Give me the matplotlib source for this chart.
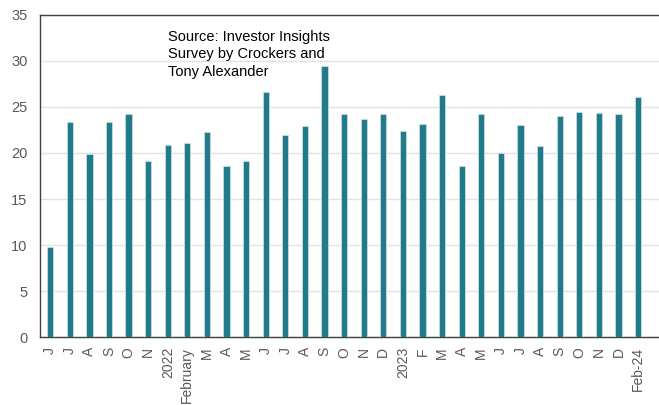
import matplotlib
matplotlib.use("Agg")
import matplotlib.pyplot as plt
import numpy as np

plt.rcParams['font.family'] = ['Liberation Sans', 'DejaVu Sans']

# 월별 라벨 (원본 그대로)
labels = ["J", "J", "A", "S", "O", "N", "2022", "February", "M", "A", "M",
          "J", "J", "A", "S", "O", "N", "D", "2023", "F", "M", "A", "M",
          "J", "J", "A", "S", "O", "N", "D", "Feb-24"]
values = [9.8, 23.4, 19.9, 23.3, 24.2, 19.1, 20.9, 21.1, 22.3, 18.6, 19.1,
          26.6, 21.9, 22.9, 29.4, 24.2, 23.7, 24.2, 22.4, 23.1, 26.3, 18.6, 24.2,
          20.0, 23.0, 20.8, 24.0, 24.4, 24.3, 24.2, 26.1]
yticks = [0, 5, 10, 15, 20, 25, 30, 35]

fig = plt.figure(figsize=(6.59, 4.05), dpi=100)
ax = fig.add_axes([0.0607, 0.167, 0.9393, 0.797])

x = np.arange(len(values))
ax.bar(x, values, width=0.32, color="#217b8b", edgecolor="#c8dde3", linewidth=0.6, zorder=3)

ax.set_xlim(-0.52, 31.07)
ax.set_ylim(0, 35)
ax.set_yticks(yticks)
ax.set_xticks(x)
ax.set_xticklabels(labels, rotation=90)
ax.tick_params(axis="both", length=0, colors="#595959", labelsize=10.5)
ax.tick_params(axis="x", pad=7, labelsize=10)
ax.tick_params(axis="y", pad=9)
ax.yaxis.grid(True, color="#e3e3e3", linewidth=1, zorder=0)

for s in ["left", "bottom", "top"]:
    ax.spines[s].set_color("#404040")
    ax.spines[s].set_linewidth(1)
ax.spines["right"].set_visible(False)

ax.text(0.207, 0.952, "Source: Investor Insights\nSurvey by Crockers and\nTony Alexander",
        transform=ax.transAxes, fontsize=10.5, va="top", ha="left", color="#000000",
        linespacing=1.3)

fig.savefig("out.png", dpi=100)
